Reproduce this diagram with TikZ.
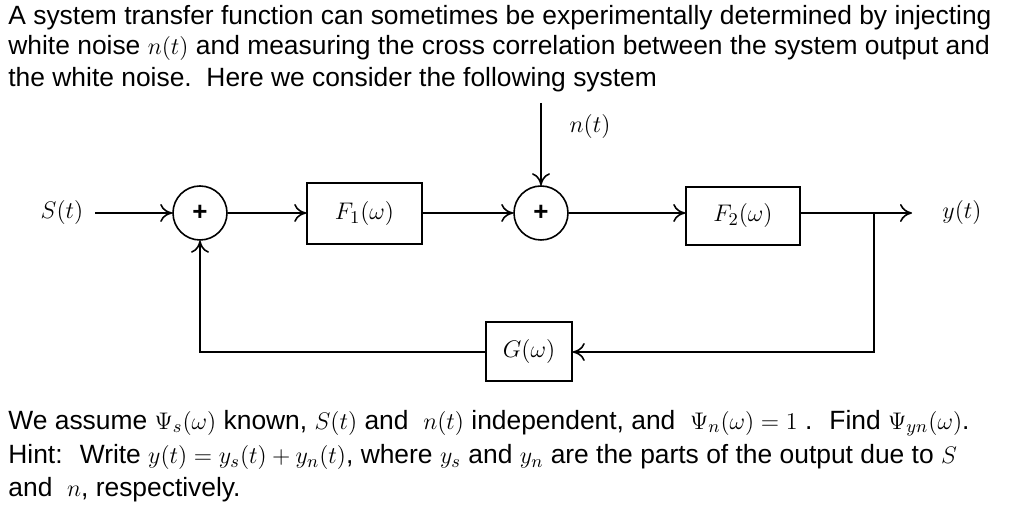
\documentclass[tikz,border=0pt]{standalone}
\usepackage{fontspec}
\setmainfont{Liberation Sans}
\usetikzlibrary{arrows.meta}
\begin{document}
\begin{tikzpicture}[x=0.5pt,y=-0.5pt,
  txt/.style={anchor=west,inner sep=0pt,font=\fontsize{13.2}{15}\selectfont},
  blk/.style={draw,thick,minimum width=#1,inner sep=0pt},
  sum/.style={draw,thick,circle,minimum size=27pt,inner sep=0pt,font=\fontsize{13}{15}\selectfont\bfseries},
  con/.style={thick,-{To[length=6pt,width=9pt]}},
  mt/.style={font=\fontsize{13}{15}\selectfont}]
\useasboundingbox (0,0) rectangle (1024,512);
\node[txt] (l1) at (8,18) {A system transfer function can sometimes be experimentally determined by injecting};
\node[txt] (l2) at (8,48) {white noise $n(t)$ and measuring the cross correlation between the system output and};
\node[txt] (l3) at (8,80) {the white noise.\ \ Here we consider the following system};
\node[txt] (b1) at (8,423) {We assume $\Psi_s(\omega)$ known, $S(t)$ and \ $n(t)$ independent, and \ $\Psi_n(\omega)=1$ . \ Find $\Psi_{yn}(\omega)$.};
\node[txt] (b2) at (8,457) {Hint: \ Write $y(t)=y_s(t)+y_n(t)$, where $y_s$ and $y_n$ are the parts of the output due to $S$};
\node[txt] (b3) at (8,490) {and \ $n$, respectively.};

\node[sum] (s1) at (200,213) {+};
\node[sum] (s2) at (541,213) {+};
\node[blk=115pt*0.5,minimum height=30.5pt,mt] (f1) at (364.5,213.5) {$F_1(\omega)$};
\node[blk=114pt*0.5,minimum height=29pt,mt] (f2) at (743,216) {$F_2(\omega)$};
\node[blk=86pt*0.5,minimum height=29.5pt,mt] (g) at (529,351.5) {$G(\omega)$};
\node[mt] (S) at (62,213) {$S(t)$};
\node[mt] (y) at (962,213) {$y(t)$};
\node[mt] (n) at (590,127) {$n(t)$};
\coordinate (ntop) at (541,103);
\coordinate (yend) at (912,213);
\coordinate (tap) at (874,213);
\coordinate (tapd) at (874,352);
\coordinate (fbl) at (200,352);

\draw[con] (95,213) -- (s1.west);
\draw[con] (s1.east) -- (f1.west |- s1.east);
\draw[con] (f1.east |- s2.west) -- (s2.west);
\draw[con] (s2.east) -- (f2.west |- s2.east);
\draw[con] (f2.east |- s2.east) -- (yend);
\draw[con] (ntop) -- (s2.north);
\draw[con] (tap) -- (tapd) -- (g.east |- tapd);
\draw[con] (g.west |- fbl) -- (fbl) -- (s1.south);
\end{tikzpicture}
\end{document}
